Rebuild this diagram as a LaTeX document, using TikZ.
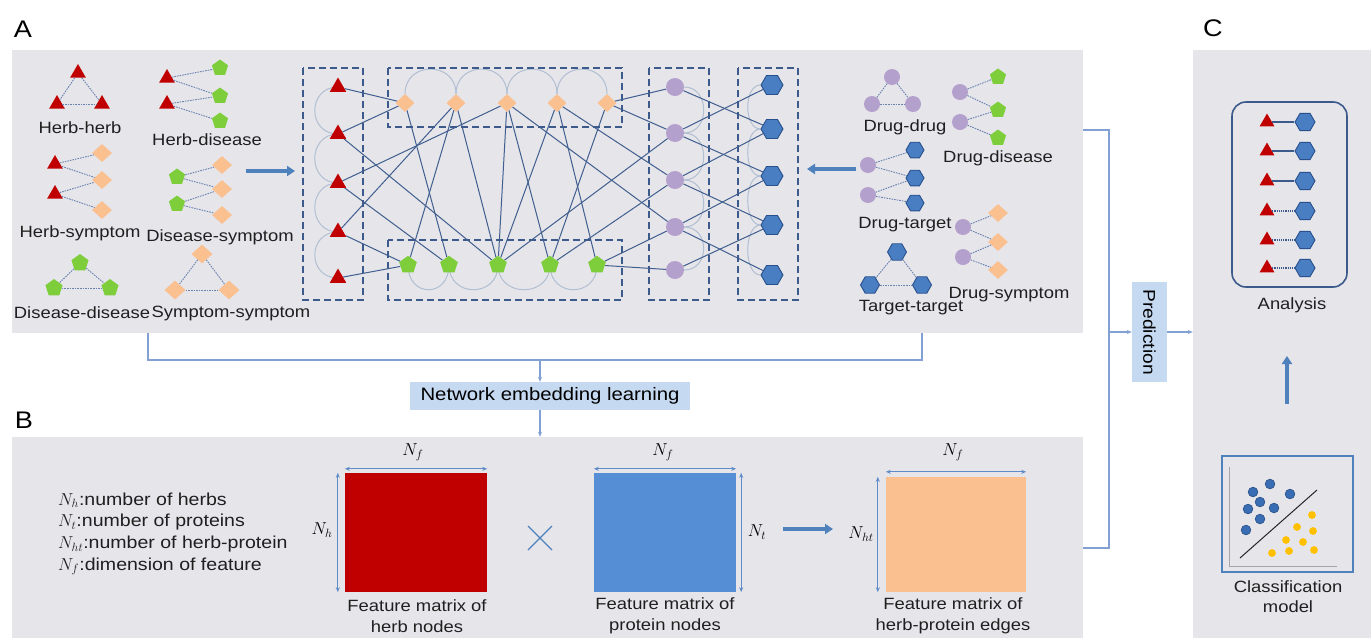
\documentclass[tikz,border=0pt]{standalone}
\usepackage{fontspec}
\setmainfont{Liberation Sans}[FakeStretch=1.13]
\usetikzlibrary{shapes.geometric,arrows.meta}
\pgfdeclarelayer{back}
\pgfdeclarelayer{bg}
\pgfsetlayers{back,bg,main}
\definecolor{panelgray}{RGB}{230,229,234}
\definecolor{redtri}{RGB}{192,0,0}
\definecolor{orgdia}{RGB}{250,192,144}
\definecolor{grnpent}{RGB}{126,206,60}
\definecolor{purcirc}{RGB}{180,160,204}
\definecolor{hexfill}{RGB}{74,126,194}
\definecolor{hexdraw}{RGB}{40,80,140}
\definecolor{edgeblue}{RGB}{64,94,142}
\definecolor{dashblue}{RGB}{60,90,140}
\definecolor{arcgray}{RGB}{176,191,210}
\definecolor{linkblue}{RGB}{130,160,210}
\definecolor{boxblue}{RGB}{197,217,241}
\definecolor{thickblue}{RGB}{79,129,189}
\definecolor{mbluec}{RGB}{85,142,213}
\definecolor{dotblue}{RGB}{58,110,180}
\definecolor{dotyel}{RGB}{255,192,0}
\definecolor{motblue}{RGB}{105,130,175}
\definecolor{dimblue}{RGB}{95,140,200}
\begin{document}
\begin{tikzpicture}[x=1pt,y=-1pt,
  panel/.style={rectangle, fill=panelgray, draw=none, inner sep=0pt},
  lbl/.style={font=\fontsize{16.3}{19}\selectfont, inner sep=0pt, text=black!88},
  plabel/.style={font=\fontsize{24}{28}\selectfont, inner sep=0pt},
  tri/.style={regular polygon, regular polygon sides=3, fill=redtri, inner sep=0pt, minimum size=19},
  dia/.style={diamond, fill=orgdia, inner sep=0pt, minimum width=19, minimum height=18},
  pent/.style={regular polygon, regular polygon sides=5, fill=grnpent, inner sep=0pt, minimum size=18.5},
  circ/.style={circle, fill=purcirc, inner sep=0pt, minimum size=18},
  hexa/.style={regular polygon, regular polygon sides=6, fill=hexfill, draw=hexdraw, line width=0.9, inner sep=0pt, minimum size=22},
  edge/.style={draw=edgeblue, line width=1},
  arcl/.style={draw=arcgray, line width=1},
  mot/.style={draw=motblue, dash pattern=on 1.6pt off 1pt, line width=0.9},
  dbox/.style={draw=dashblue, dash pattern=on 7pt off 4pt, line width=1.8},
  link/.style={draw=linkblue, line width=1.2},
  linkarrow/.style={link, -{Stealth[length=5pt,width=4pt]}},
  thickarrow/.style={draw=thickblue, line width=4, -{Triangle[length=8pt,width=10pt]}},
  dimarrow/.style={draw=dimblue, line width=1, {Stealth[length=5pt,width=4pt]}-{Stealth[length=5pt,width=4pt]}},
  mlab/.style={font=\fontsize{18}{20}\selectfont, inner sep=0pt},
  tagbox/.style={rectangle, fill=boxblue, draw=none, inner sep=0pt}
]
\useasboundingbox (0,0) rectangle (1371,638);

% panels
\begin{pgfonlayer}{back}
\fill[white] (0,0) rectangle (1371,638);
\node[panel, minimum width=1071, minimum height=283] (pA) at (547.5,191.5) {};
\node[panel, minimum width=1071, minimum height=201] (pB) at (547.5,537.5) {};
\node[panel, minimum width=178, minimum height=588] (pC) at (1282,344) {};
\end{pgfonlayer}
\node[plabel] (labA) at (23,29) {A};
\node[plabel] (labB) at (24,420) {B};
\node[plabel] (labC) at (1213,28) {C};

% ---------- left motifs ----------
\node[tri, minimum size=18] (hh1) at (78,73) {};
\node[tri, minimum size=18] (hh2) at (57,104) {};
\node[tri, minimum size=18] (hh3) at (102,104) {};
\draw[mot] (hh1) -- (hh2); \draw[mot] (hh1) -- (hh3); \draw[mot] (hh2) -- (hh3);
\node[lbl] (lhh) at (80,128) {Herb-herb};

\node[tri, minimum size=18] (hdt1) at (167,78) {};
\node[tri, minimum size=18] (hdt2) at (167,104) {};
\node[pent, minimum size=17] (hdp1) at (220,68) {};
\node[pent, minimum size=17] (hdp2) at (220,96) {};
\node[pent, minimum size=17] (hdp3) at (220,121) {};
\draw[mot] (hdt1) -- (hdp1); \draw[mot] (hdt1) -- (hdp2); \draw[mot] (hdt2) -- (hdp2); \draw[mot] (hdt2) -- (hdp3);
\node[lbl] (lhd) at (207,140) {Herb-disease};

\node[tri, minimum size=18] (hst1) at (55,164) {};
\node[tri, minimum size=18] (hst2) at (55,194) {};
\node[dia, minimum width=20] (hsd1) at (102,153) {};
\node[dia, minimum width=20] (hsd2) at (102,180) {};
\node[dia, minimum width=20] (hsd3) at (102,210) {};
\draw[mot] (hst1) -- (hsd1); \draw[mot] (hst1) -- (hsd2); \draw[mot] (hst2) -- (hsd2); \draw[mot] (hst2) -- (hsd3);
\node[lbl] (lhs) at (80,233) {Herb-symptom};

\node[pent, minimum size=17] (dsp1) at (177,177) {};
\node[pent, minimum size=17] (dsp2) at (177,204) {};
\node[dia, minimum width=20] (dsd1) at (222,165) {};
\node[dia, minimum width=20] (dsd2) at (222,189) {};
\node[dia, minimum width=20] (dsd3) at (222,215) {};
\draw[mot] (dsp1) -- (dsd1); \draw[mot] (dsp1) -- (dsd2); \draw[mot] (dsp2) -- (dsd2); \draw[mot] (dsp2) -- (dsd3);
\node[lbl] (lds) at (220,237) {Disease-symptom};

\node[pent, minimum size=18] (dd1) at (80,263) {};
\node[pent, minimum size=18] (dd2) at (54,288) {};
\node[pent, minimum size=18] (dd3) at (110,288) {};
\draw[mot] (dd1) -- (dd2); \draw[mot] (dd1) -- (dd3); \draw[mot] (dd2) -- (dd3);
\node[lbl] (ldd) at (82,313) {Disease-disease};

\node[dia, minimum width=21, minimum height=19] (ss1) at (202,254) {};
\node[dia, minimum width=21, minimum height=19] (ss2) at (175,290) {};
\node[dia, minimum width=21, minimum height=19] (ss3) at (229,290) {};
\draw[mot] (ss1) -- (ss2); \draw[mot] (ss1) -- (ss3); \draw[mot] (ss2) -- (ss3);
\node[lbl] (lss) at (231,313) {Symptom-symptom};

\coordinate (al1) at (246,171);
\coordinate (al2) at (295,171);
\draw[thickarrow] (al1) -- (al2);

% ---------- central network ----------
\foreach \i/\y in {1/87,2/134,3/183,4/232,5/278} \node[tri] (T\i) at (338,\y) {};
\foreach \i/\x in {1/405,2/456,3/507,4/557,5/607} \node[dia] (D\i) at (\x,103) {};
\foreach \i/\x in {1/408,2/449,3/498,4/550,5/597} \node[pent] (P\i) at (\x,265) {};
\foreach \i/\y in {1/87,2/133,3/180,4/227,5/270} \node[circ] (C\i) at (675,\y) {};
\foreach \i/\y in {1/85,2/129,3/176,4/225,5/275} \node[hexa] (H\i) at (772,\y) {};

\begin{pgfonlayer}{bg}
\foreach \a/\b in {1/2,2/3,3/4,4/5} {
  \draw[arcl] (T\a.center) .. controls +(-31,0) and +(-31,0) .. (T\b.center);
  \draw[arcl] (D\a.north) .. controls +(0,-33) and +(0,-33) .. (D\b.north);
  \draw[arcl] (P\a.center) .. controls +(0,33) and +(0,33) .. (P\b.center);
  \draw[arcl] (C\a.east) .. controls +(26,0) and +(26,0) .. (C\b.east);
  \draw[arcl] (H\a.west) .. controls +(-17,0) and +(-17,0) .. (H\b.west);
}
\foreach \a/\b in {T1/D1,T2/D1,T2/P3,T3/D3,T3/P2,T4/D2,T4/P1,T5/P1,
  D1/P2,D2/P1,D2/P3,D3/P3,D3/P4,D4/P3,D4/P5,D5/P4,
  D5/C1,D5/C2,D4/C3,D3/C4,P3/C2,P4/C3,P5/C4,P5/C5,
  C1/H2,C2/H1,C2/H3,C3/H2,C3/H4,C4/H3,C4/H5,C5/H4}
  \draw[edge] (\a) -- (\b);
\end{pgfonlayer}

\draw[dbox] (303,68) rectangle (363,300);
\draw[dbox] (388,68) rectangle (622,127);
\draw[dbox] (388,240) rectangle (622,300);
\draw[dbox] (649,68) rectangle (709,300);
\draw[dbox] (738,68) rectangle (798,300);

\coordinate (ar1) at (856,169);
\coordinate (ar2) at (807,169);
\draw[thickarrow] (ar1) -- (ar2);

% ---------- right motifs ----------
\node[circ, minimum size=16] (ddc1) at (892,77) {};
\node[circ, minimum size=16] (ddc2) at (872,104) {};
\node[circ, minimum size=16] (ddc3) at (913,104) {};
\draw[mot] (ddc1) -- (ddc2); \draw[mot] (ddc1) -- (ddc3); \draw[mot] (ddc2) -- (ddc3);
\node[lbl] (ldrd) at (905,127) {Drug-drug};

\node[circ, minimum size=16] (dzc1) at (960,92) {};
\node[circ, minimum size=16] (dzc2) at (960,122) {};
\node[pent, minimum size=17] (dzp1) at (998,77) {};
\node[pent, minimum size=17] (dzp2) at (998,110) {};
\node[pent, minimum size=17] (dzp3) at (998,138) {};
\draw[mot] (dzc1) -- (dzp1); \draw[mot] (dzc1) -- (dzp2); \draw[mot] (dzc2) -- (dzp2); \draw[mot] (dzc2) -- (dzp3);
\node[lbl] (ldz) at (998,158) {Drug-disease};

\node[circ, minimum size=16] (dtc1) at (868,165) {};
\node[circ, minimum size=16] (dtc2) at (868,195) {};
\node[hexa, minimum size=18] (dth1) at (915,150) {};
\node[hexa, minimum size=18] (dth2) at (915,178) {};
\node[hexa, minimum size=18] (dth3) at (915,203) {};
\draw[mot] (dtc1) -- (dth1); \draw[mot] (dtc1) -- (dth2); \draw[mot] (dtc2) -- (dth2); \draw[mot] (dtc2) -- (dth3);
\node[lbl] (ldt) at (905,225) {Drug-target};

\node[circ, minimum size=16] (dyc1) at (963,227) {};
\node[circ, minimum size=16] (dyc2) at (963,257) {};
\node[dia, minimum width=20] (dyd1) at (998,213) {};
\node[dia, minimum width=20] (dyd2) at (998,242) {};
\node[dia, minimum width=20] (dyd3) at (998,270) {};
\draw[mot] (dyc1) -- (dyd1); \draw[mot] (dyc1) -- (dyd2); \draw[mot] (dyc2) -- (dyd2); \draw[mot] (dyc2) -- (dyd3);
\node[lbl] (ldy) at (1009,295) {Drug-symptom};

\node[hexa, minimum size=19] (tt1) at (897,252) {};
\node[hexa, minimum size=19] (tt2) at (870,285) {};
\node[hexa, minimum size=19] (tt3) at (922,285) {};
\draw[mot] (tt1) -- (tt2); \draw[mot] (tt1) -- (tt3); \draw[mot] (tt2) -- (tt3);
\node[lbl] (ltt) at (911,308) {Target-target};

% ---------- connectors A -> B ----------
\coordinate (bl) at (148,360);
\coordinate (br) at (922,360);
\coordinate (bm) at (540,360);
\draw[link] (pA.south -| bl) -- (bl) -- (br) -- (pA.south -| br);
\node[tagbox, minimum width=280, minimum height=28, font=\fontsize{18}{21}\selectfont] (net) at (550,396) {Network embedding learning};
\draw[linkarrow] (bm) -- (bm |- net.north);
\draw[linkarrow] (net.south -| bm) -- (bm |- pB.north);

% ---------- prediction ----------
\coordinate (rt) at (1109,130);
\coordinate (rb) at (1109,548);
\draw[link] (pA.east |- rt) -- (rt) -- (rb) -- (pB.east |- rb);
\node[tagbox, minimum width=100, minimum height=35, rotate=-90, font=\fontsize{17}{19}\selectfont] (pred) at (1149.5,332) {Prediction};
\draw[linkarrow] (rt |- pred.south) -- (pred.south);
\draw[linkarrow] (pred.north) -- (pred.north -| pC.west);

% ---------- panel B ----------
\node[anchor=west, align=left, inner sep=0pt, font=\fontsize{17.3}{21.7}\selectfont, text=black!88] (legend) at (58,534)
  {$N_h$:number of herbs\\ $N_t$:number of proteins\\ $N_{ht}$:number of herb-protein\\ $N_f$:dimension of feature};

\node[rectangle, fill=redtri, minimum width=142, minimum height=119, inner sep=0pt] (mH) at (416,532.5) {};
\draw[dimarrow] ([yshift=4pt]mH.north west) -- ([yshift=4pt]mH.north east);
\draw[dimarrow] ([xshift=-7pt]mH.north west) -- ([xshift=-7pt]mH.south west);
\node[mlab] (nfh) at (413,452) {$N_f$};
\node[mlab] (nhh) at (322,530) {$N_h$};
\node[lbl, align=center, font=\fontsize{16.3}{21.5}\selectfont] (fh) at (417,616) {Feature matrix of\\herb nodes};

\coordinate (x1) at (528,526); \coordinate (x2) at (552,550);
\coordinate (x3) at (528,550); \coordinate (x4) at (552,526);
\draw[draw=thickblue, line width=1.3] (x1) -- (x2);
\draw[draw=thickblue, line width=1.3] (x3) -- (x4);

\node[rectangle, fill=mbluec, minimum width=142, minimum height=119, inner sep=0pt] (mT) at (665,532.5) {};
\draw[dimarrow] ([yshift=4pt]mT.north west) -- ([yshift=4pt]mT.north east);
\draw[dimarrow] ([xshift=5pt]mT.north east) -- ([xshift=5pt]mT.south east);
\node[mlab] (nft) at (663,452) {$N_f$};
\node[mlab] (ntt) at (757,532) {$N_t$};
\node[lbl, align=center, font=\fontsize{16.3}{21.5}\selectfont] (ft) at (665,616) {Feature matrix of\\protein nodes};

\coordinate (mb1) at (783,529);
\coordinate (mb2) at (833,529);
\draw[thickarrow] (mb1) -- (mb2);

\node[rectangle, fill=orgdia, minimum width=140, minimum height=115, inner sep=0pt] (mE) at (956,534.5) {};
\draw[dimarrow] ([yshift=5pt]mE.north west) -- ([yshift=5pt]mE.north east);
\draw[dimarrow] ([xshift=-8pt]mE.north west) -- ([xshift=-8pt]mE.south west);
\node[mlab] (nfe) at (953,452) {$N_f$};
\node[mlab] (nhe) at (861,534) {$N_{ht}$};
\node[lbl, align=center, font=\fontsize{16.3}{21.5}\selectfont] (fe) at (953,616) {Feature matrix of\\herb-protein edges};

% ---------- panel C ----------
\node[rectangle, rounded corners=14pt, draw=dashblue, line width=1.6, minimum width=115, minimum height=185, inner sep=0pt] (anbox) at (1289.5,194.5) {};
\foreach \i/\y in {1/122,2/151,3/181,4/211,5/240,6/268} {
  \node[tri, minimum size=17] (ct\i) at (1267,\y) {};
  \node[hexa, minimum size=20] (ch\i) at (1305,\y) {};
}
\foreach \i in {1,2,3} \draw[draw=dashblue, line width=1.6] (ct\i) -- (ch\i);
\foreach \i in {4,5,6} \draw[draw=dashblue, line width=1.4, dash pattern=on 1.2pt off 1pt] (ct\i) -- (ch\i);
\node[lbl] (lan) at (1292,305) {Analysis};

\coordinate (ua1) at (1287,404);
\coordinate (ua2) at (1287,356);
\draw[thickarrow] (ua1) -- (ua2);

\node[rectangle, draw=thickblue, line width=2, minimum width=131, minimum height=116, inner sep=0pt] (clbox) at (1287.5,514) {};
\draw[draw=black!35, line width=0.8] (1229,467) -- (1229,566) -- (1337,566);
\draw[draw=black!85, line width=1] (1240,558) -- (1317,490);
\foreach \x/\y in {1270/484,1253/492,1290/494,1260/502,1274/508,1248/509,1260/519,1246/530}
  \filldraw[fill=dotblue, draw=hexdraw, line width=0.7] (\x,\y) circle[radius=4.8];
\foreach \x/\y in {1312/515,1297/527,1313/531,1286/540,1303/542,1272/553,1289/551,1314/550}
  \fill[dotyel] (\x,\y) circle[radius=3.9];
\node[lbl, align=center, font=\fontsize{16.3}{20}\selectfont] (lcl) at (1288,597) {Classification\\model};

\end{tikzpicture}
\end{document}
